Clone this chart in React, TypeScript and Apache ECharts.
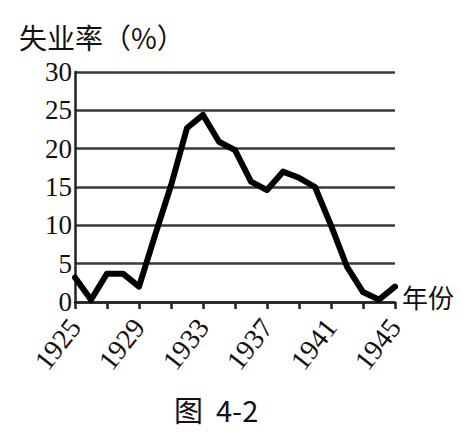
import React, { useEffect, useRef } from "react";
import * as echarts from "echarts";

const years = ["1925","1926","1927","1928","1929","1930","1931","1932","1933","1934","1935","1936","1937","1938","1939","1940","1941","1942","1943","1944","1945"];
const unemployment = [3.2, 0.3, 3.7, 3.7, 2.0, 8.7, 15.2, 22.7, 24.4, 20.9, 19.8, 15.7, 14.6, 17.0, 16.2, 15.0, 10.0, 4.6, 1.3, 0.3, 2.0];
const yTicks = { min: 0, max: 30, interval: 5 };
const yTitle = "失业率（%）";
const xTitle = "年份";
const caption = "图  4-2";

export default function App() {
  const ref = useRef<HTMLDivElement>(null);
  useEffect(() => {
    if (!ref.current) return;
    const chart = echarts.init(ref.current, null, { renderer: "svg" });
    const serif = "Times New Roman, Liberation Serif, serif";
    const cjk = "Noto Sans CJK SC";
    chart.setOption({
      animation: false,
      backgroundColor: "#ffffff",
      textStyle: { fontFamily: serif },
      grid: { left: 75, right: 76, top: 72, bottom: 141, containLabel: false },
      xAxis: {
        type: "category",
        data: years,
        boundaryGap: false,
        axisLine: { show: true, lineStyle: { color: "#222", width: 2.5 } },
        axisTick: { show: true, interval: 1, length: 7, inside: false, lineStyle: { color: "#222", width: 2.5 } },
        axisLabel: {
          interval: 3,
          rotate: 52,
          margin: 20,
          fontFamily: serif,
          fontSize: 28,
          color: "#111",
        },
        splitLine: { show: false },
      },
      yAxis: {
        type: "value",
        min: yTicks.min,
        max: yTicks.max,
        interval: yTicks.interval,
        axisLine: { show: true, lineStyle: { color: "#222", width: 2.5 } },
        axisTick: { show: false },
        axisLabel: {
          margin: 3,
          fontFamily: serif,
          fontSize: 27,
          color: "#111",
        },
        splitLine: { show: true, lineStyle: { color: "#3a3a3a", width: 2.5 } },
      },
      series: [
        {
          type: "line",
          data: unemployment,
          symbol: "none",
          smooth: false,
          lineStyle: { color: "#000", width: 6, join: "round", cap: "round" },
        },
      ],
      graphic: [
        {
          type: "text",
          left: 19,
          top: 23,
          style: { text: yTitle, fontFamily: cjk, fontSize: 28, fill: "#111" },
        },
        {
          type: "text",
          left: 402,
          top: 283,
          style: { text: xTitle, fontFamily: cjk, fontSize: 26, fill: "#111" },
        },
        {
          type: "text",
          left: 174,
          top: 394,
          style: { text: caption, fontFamily: cjk, fontSize: 29, fill: "#111" },
        },
      ],
    });
    return () => chart.dispose();
  }, []);
  return (
    <div
      ref={ref}
      style={{ position: "fixed", left: 0, top: 0, width: 471, height: 443, background: "#fff" }}
    />
  );
}
